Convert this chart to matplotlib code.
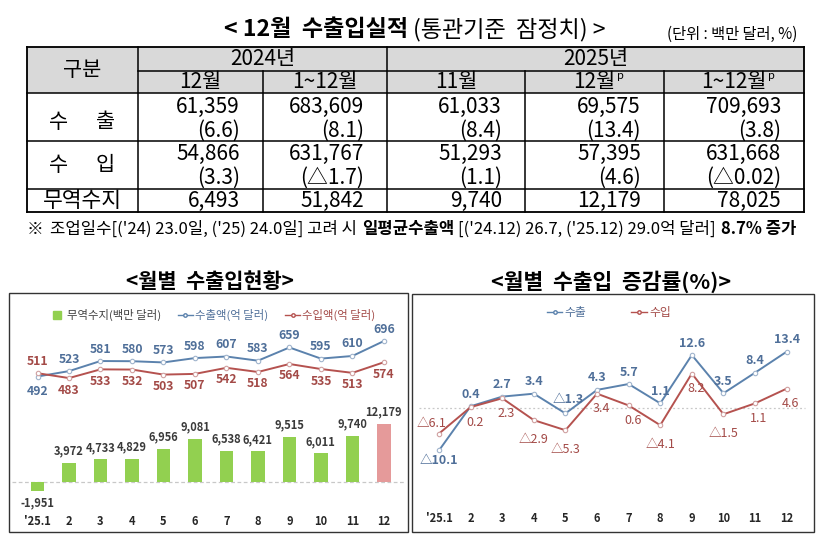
import matplotlib
matplotlib.use('Agg')
import matplotlib.pyplot as plt
from matplotlib.patches import Rectangle
from matplotlib.lines import Line2D

plt.rcParams['font.family'] = ['Noto Sans CJK KR', 'DejaVu Sans']

# ---------------- data ----------------
year_headers = ["2024년", "2025년"]
period_headers = ["12월", "1~12월", "11월", "12월", "1~12월"]
period_prelim = [False, False, False, True, True]
row_labels = ["수출", "수입", "무역수지"]
export_amt = [61359, 683609, 61033, 69575, 709693]
export_chg = [6.6, 8.1, 8.4, 13.4, 3.8]
import_amt = [54866, 631767, 51293, 57395, 631668]
import_chg = [3.3, -1.7, 1.1, 4.6, -0.02]
balance_amt = [6493, 51842, 9740, 12179, 78025]

months = ["'25.1", "2", "3", "4", "5", "6", "7", "8", "9", "10", "11", "12"]
monthly_balance = [-1951, 3972, 4733, 4829, 6956, 9081, 6538, 6421, 9515, 6011, 9740, 12179]
monthly_export = [492, 523, 581, 580, 573, 598, 607, 583, 659, 595, 610, 696]
monthly_import = [511, 483, 533, 532, 503, 507, 542, 518, 564, 535, 513, 574]
export_growth = [-10.1, 0.4, 2.7, 3.4, -1.3, 4.3, 5.7, 1.1, 12.6, 3.5, 8.4, 13.4]
import_growth = [-6.1, 0.2, 2.3, -2.9, -5.3, 3.4, 0.6, -4.1, 8.2, -1.5, 1.1, 4.6]

# ---------------- styles ----------------
W, H = 819, 541
GREEN = '#92d050'
PINK = '#e59a9a'
BLUE = '#5b82ad'
RED = '#b5524f'
BLUE_T = '#4f6f99'
RED_T = '#a34a47'
DARK = '#262626'

fig = plt.figure(figsize=(W / 100, H / 100), dpi=100)
renderer = fig.canvas.get_renderer()


def fx(x):
    return x / W


def fy(y):
    return 1 - y / H


def ftext(x, y, s, **kw):
    kw.setdefault('va', 'center')
    kw.setdefault('ha', 'center')
    return fig.text(fx(x), fy(y), s, **kw)


def hline(x0, x1, y, lw=1.0, color='black'):
    fig.add_artist(Line2D([fx(x0), fx(x1)], [fy(y), fy(y)], lw=lw, color=color,
                          transform=fig.transFigure))


def vline(x, y0, y1, lw=1.0, color='black'):
    fig.add_artist(Line2D([fx(x), fx(x)], [fy(y0), fy(y1)], lw=lw, color=color,
                          transform=fig.transFigure))


def seq_text(pieces, x, y, size, target=None):
    """draw consecutive pieces (text, weight, gap_px)."""
    def draw(sz):
        arts = []
        cur = x
        for s, w, gap in pieces:
            t = ftext(cur, y, s, ha='left', fontsize=sz, fontweight=w, color='black')
            arts.append(t)
            cur += t.get_window_extent(renderer).width + gap
        return arts, cur - x
    arts, width = draw(size)
    if target is not None:
        for a in arts:
            a.remove()
        arts, width = draw(size * target / width)
    return arts


# ---------------- top title ----------------
seq_text([("< 12월  수출입실적", 'bold', 5), ("(통관기준  잠정치) >", 'normal', 0)],
         224, 30, 12.5, target=384)
ftext(797, 34, "(단위 : 백만 달러, %)", ha='right', fontsize=11)

# ---------------- table ----------------
col_x = [27, 138, 263, 387, 525, 664, 804]
row_y = [47, 71, 93, 141, 189, 212]
fig.add_artist(Rectangle((fx(col_x[0]), fy(row_y[2])), fx(col_x[-1]) - fx(col_x[0]),
                         fy(row_y[0]) - fy(row_y[2]), transform=fig.transFigure,
                         facecolor='#d9d9d9', edgecolor='none'))
LW = 1.1
hline(col_x[0], col_x[-1], row_y[0], LW * 1.2)
hline(col_x[1], col_x[-1], row_y[1], LW)
for yy in row_y[2:5]:
    hline(col_x[0], col_x[-1], yy, LW)
hline(col_x[0], col_x[-1], row_y[5], LW * 1.2)
vline(col_x[0], row_y[0], row_y[5], LW * 1.2)
vline(col_x[-1], row_y[0], row_y[5], LW * 1.2)
vline(col_x[1], row_y[0], row_y[5], LW)
vline(col_x[3], row_y[0], row_y[5], LW)
for i in (2, 4, 5):
    vline(col_x[i], row_y[1], row_y[5], LW)

TS = 15
ftext((col_x[0] + col_x[1]) / 2, 70, "구분", fontsize=TS)
ftext((col_x[1] + col_x[3]) / 2, 59.5, year_headers[0], fontsize=TS)
ftext((col_x[3] + col_x[-1]) / 2, 59.5, year_headers[1], fontsize=TS)
for i, (lab, pre) in enumerate(zip(period_headers, period_prelim)):
    cx = (col_x[i + 1] + col_x[i + 2]) / 2
    t = ftext(cx, 82, lab, fontsize=TS)
    if pre:
        bb = t.get_window_extent(renderer)
        ftext(bb.x1 + 1, 76, "p", ha='left', fontsize=8)

# row labels
lc = (col_x[0] + col_x[1]) / 2
for lab, yy in zip(row_labels[:2], (122, 165)):
    ftext(lc - 24, yy, lab[0], fontsize=TS)
    ftext(lc + 23, yy, lab[1], fontsize=TS)
ftext(lc, 201, row_labels[2], fontsize=TS + 0.5)


def fmt_amt(v):
    return f"{v:,}"


def fmt_chg(v):
    return f"({'△' if v < 0 else ''}{abs(v):g})"


for i in range(5):
    rx = col_x[i + 2] - 23
    ftext(rx, 107, fmt_amt(export_amt[i]), ha='right', fontsize=TS)
    ftext(rx, 131, fmt_chg(export_chg[i]), ha='right', fontsize=TS)
    ftext(rx, 154, fmt_amt(import_amt[i]), ha='right', fontsize=TS)
    ftext(rx, 178, fmt_chg(import_chg[i]), ha='right', fontsize=TS)
    ftext(rx, 201, fmt_amt(balance_amt[i]), ha='right', fontsize=TS)

# footnote
seq_text([("※", 'normal', 6),
          ("조업일수[('24) 23.0일, ('25) 24.0일] 고려 시", 'normal', 5),
          ("일평균수출액", 'bold', 4),
          ("[('24.12) 26.7, ('25.12) 29.0억 달러]", 'normal', 5),
          ("8.7% 증가", 'bold', 0)],
         27, 229, 10.5, target=770)

# ---------------- chart titles & boxes ----------------
ftext(210, 282, "<월별  수출입현황>", fontsize=15, fontweight='bold')
ftext(611, 282, "<월별  수출입  증감률(%)>", fontsize=15.5, fontweight='bold')
for (x0, y0, x1, y1) in ((9, 293, 408, 532), (412, 294, 814, 532)):
    fig.add_artist(Rectangle((fx(x0), fy(y1)), fx(x1) - fx(x0), fy(y0) - fy(y1),
                             transform=fig.transFigure, fill=False,
                             edgecolor='#333333', lw=1.0))

x = list(range(len(months)))


def clean(ax):
    for s in ax.spines.values():
        s.set_visible(False)
    ax.patch.set_alpha(0)


# ---------------- left chart ----------------
ax1 = fig.add_axes([fx(12), fy(505), fx(405) - fx(12), fy(300) - fy(505)])
bar_colors = [GREEN] * (len(months) - 1) + [PINK]
ax1.bar(x, monthly_balance, width=0.42, color=bar_colors, zorder=2)
ax1.axhline(0, color='#c8c8c8', lw=0.9, ls=(0, (3, 2)), zorder=1)
ax1.set_xlim(-0.81, 11.67)
ax1.set_ylim(-4830, 38200)
ax1.set_yticks([])
ax1.set_xticks(x, months)
ax1.tick_params(axis='x', length=0, pad=7, labelsize=8, labelcolor=DARK)
for lab in ax1.get_xticklabels():
    lab.set_fontweight('bold')
clean(ax1)
for xi, v in zip(x, monthly_balance):
    ax1.annotate(f"{v:,}", (xi, v), xytext=(0, 12 if v >= 0 else -12),
                 textcoords='offset pixels', ha='center', va='center',
                 fontsize=8, fontweight='bold', color='#3a3a3a')

ax1b = ax1.twinx()
ax1b.set_ylim(-247, 932)
ax1b.set_yticks([])
clean(ax1b)
ax1b.plot(x, monthly_export, color=BLUE, lw=1.4, marker='o', ms=3.2,
          mfc='white', mec='#a0b4cc', mew=0.8, zorder=3)
ax1b.plot(x, monthly_import, color=RED, lw=1.4, marker='o', ms=3.2,
          mfc='white', mec='#d0a0a0', mew=0.8, zorder=3)
for i, (e, im) in enumerate(zip(monthly_export, monthly_import)):
    e_off = 12 if e >= im else -15
    i_off = -12 if e >= im else 12
    ax1b.annotate(str(e), (i, e), xytext=(0, e_off), textcoords='offset pixels',
                  ha='center', va='center', fontsize=8.8, fontweight='bold', color=BLUE_T)
    ax1b.annotate(str(im), (i, im), xytext=(0, i_off), textcoords='offset pixels',
                  ha='center', va='center', fontsize=8.8, fontweight='bold', color=RED_T)

h_bar = Line2D([], [], marker='s', ls='none', color=GREEN, ms=6)
h_exp = Line2D([], [], color=BLUE, lw=1.0, marker='o', ms=2.5, mfc='white', mec=BLUE)
h_imp = Line2D([], [], color=RED, lw=1.0, marker='o', ms=2.5, mfc='white', mec=RED)
leg = ax1b.legend([h_bar, h_exp, h_imp], ["무역수지(백만 달러)", "수출액(억 달러)", "수입액(억 달러)"],
                  loc='center', bbox_to_anchor=(0.51, 0.927), ncol=3, frameon=False,
                  fontsize=8.2, handlelength=1.3, handletextpad=0.2, columnspacing=1.5)
for t, c in zip(leg.get_texts(), ['#404040', BLUE_T, RED_T]):
    t.set_color(c)

# ---------------- right chart ----------------
ax2 = fig.add_axes([fx(415), fy(505), fx(811) - fx(415), fy(300) - fy(505)])
ax2.set_xlim(-0.76, 11.77)
ax2.set_ylim(-23.1, 25.7)
ax2.set_yticks([])
ax2.set_xticks(x, months)
ax2.tick_params(axis='x', length=0, pad=5, labelsize=8, labelcolor=DARK)
for lab in ax2.get_xticklabels():
    lab.set_fontweight('bold')
clean(ax2)
ax2.axhline(0, color='#c8c8c8', lw=0.9, ls=(0, (1.5, 2)), zorder=1,
            xmin=0.01, xmax=0.985)
ax2.plot(x, export_growth, color=BLUE, lw=1.4, marker='o', ms=3.2,
         mfc='white', mec='#a0b4cc', mew=0.8, zorder=3)
ax2.plot(x, import_growth, color=RED, lw=1.4, marker='o', ms=3.2,
         mfc='white', mec='#d0a0a0', mew=0.8, zorder=3)


def fmt_g(v):
    return f"△{abs(v):.1f}" if v < 0 else f"{v:.1f}"


for i, v in enumerate(export_growth):
    off = (0, -10) if i == 0 else ((3, 14) if v < 0 else (0, 12))
    ax2.annotate(fmt_g(v), (i, v), xytext=off, textcoords='offset pixels',
                 ha='center', va='center', fontsize=9, fontweight='bold', color=BLUE_T)
for i, v in enumerate(import_growth):
    if i == 0:
        off = (-7, 10)
    elif v < 0:
        off = (0, -19)
    else:
        off = (4, -15)
    ax2.annotate(fmt_g(v), (i, v), xytext=off, textcoords='offset pixels',
                 ha='center', va='center', fontsize=9, color=RED_T)

leg2 = ax2.legend([h_exp, h_imp], ["수출", "수입"], loc='center',
                  bbox_to_anchor=(0.49, 0.94), ncol=2, frameon=False, fontsize=8.5,
                  handlelength=1.3, handletextpad=0.2, columnspacing=3.8)
for t, c in zip(leg2.get_texts(), [BLUE_T, RED_T]):
    t.set_color(c)

fig.savefig('out.png', dpi=100)
